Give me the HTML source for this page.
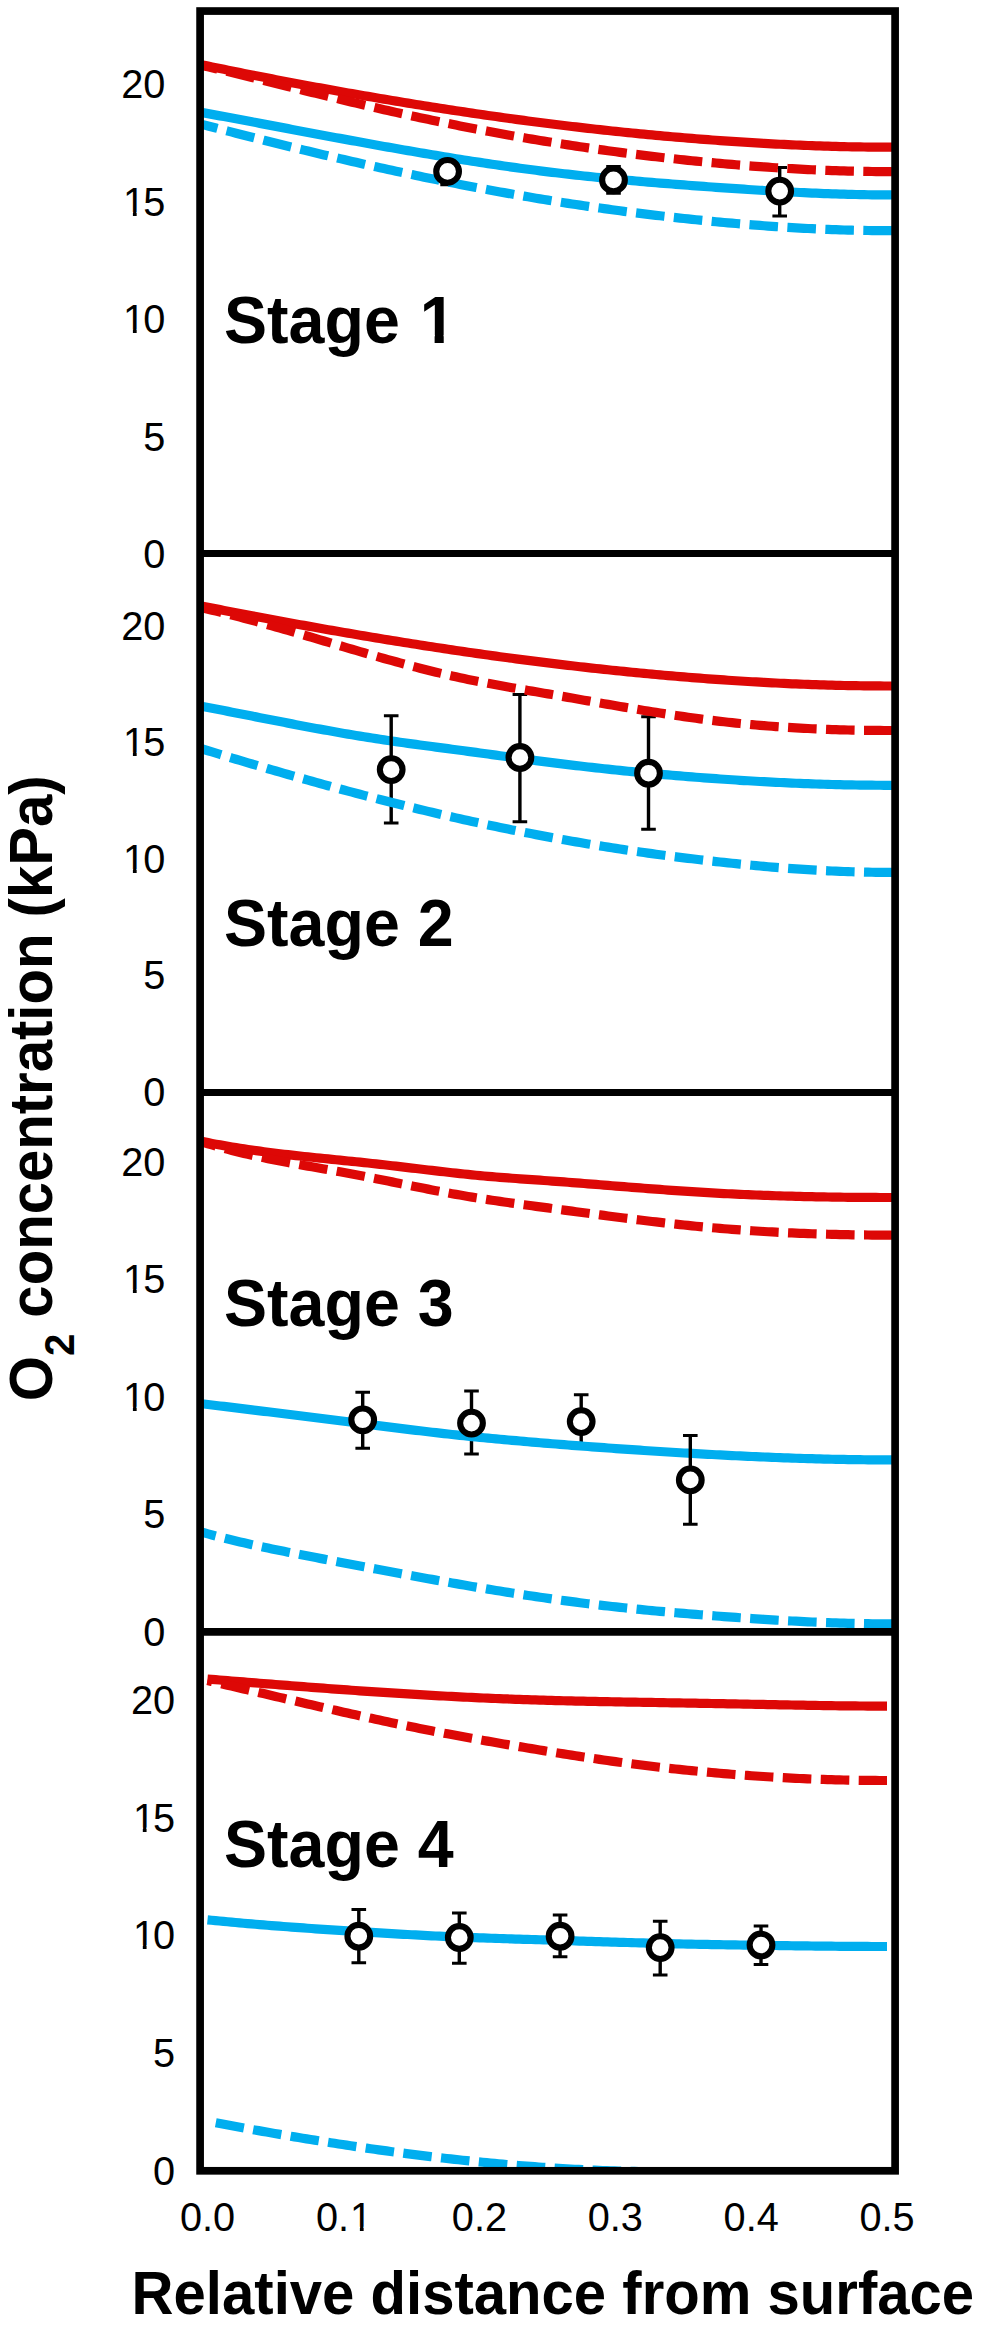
<!DOCTYPE html>
<html lang="en"><head><meta charset="utf-8"><title>O2 concentration profiles</title>
<style>html,body{margin:0;padding:0;background:#fff}svg{display:block}text{font-family:"Liberation Sans",sans-serif;fill:#000}.b{font-weight:bold}</style></head><body>
<svg width="982" height="2326" viewBox="0 0 982 2326">
<rect width="982" height="2326" fill="#fff"/>
<defs><clipPath id="cp"><rect x="200.1" y="11.05" width="695.0" height="2159.75"/></clipPath></defs>
<g stroke="#000" fill="none">
<path stroke-width="3.4" d="M447.6 158.0V184.8"/><path stroke-width="3.0" d="M440.30 158.0H454.90M440.30 184.8H454.90"/>
<path stroke-width="3.4" d="M613.5 166.5V193.3"/><path stroke-width="3.0" d="M606.20 166.5H620.80M606.20 193.3H620.80"/>
<path stroke-width="3.4" d="M779.7 167.5V216.1"/><path stroke-width="3.0" d="M772.40 167.5H787.00M772.40 216.1H787.00"/>
</g>
<g clip-path="url(#cp)" fill="none" stroke-width="9.2">
<path d="M200.0 64.40 L204.0 65.24 L208.0 66.07 L212.0 66.90 L216.0 67.72 L220.0 68.54 L224.0 69.36 L228.0 70.17 L232.0 70.98 L236.0 71.79 L240.0 72.59 L244.0 73.39 L248.0 74.19 L252.0 74.98 L256.0 75.77 L260.0 76.55 L264.0 77.33 L268.0 78.11 L272.0 78.88 L276.0 79.65 L280.0 80.42 L284.0 81.18 L288.0 81.94 L292.0 82.70 L296.0 83.45 L300.0 84.20 L304.0 84.95 L308.0 85.69 L312.0 86.43 L316.0 87.16 L320.0 87.89 L324.0 88.62 L328.0 89.34 L332.0 90.06 L336.0 90.78 L340.0 91.50 L344.0 92.21 L348.0 92.91 L352.0 93.62 L356.0 94.32 L360.0 95.02 L364.0 95.71 L368.0 96.40 L372.0 97.09 L376.0 97.77 L380.0 98.45 L384.0 99.13 L388.0 99.80 L392.0 100.47 L396.0 101.14 L400.0 101.80 L404.0 102.46 L408.0 103.12 L412.0 103.77 L416.0 104.42 L420.0 105.06 L424.0 105.71 L428.0 106.34 L432.0 106.98 L436.0 107.61 L440.0 108.23 L444.0 108.86 L448.0 109.47 L452.0 110.09 L456.0 110.70 L460.0 111.30 L464.0 111.91 L468.0 112.50 L472.0 113.10 L476.0 113.69 L480.0 114.27 L484.0 114.85 L488.0 115.43 L492.0 116.00 L496.0 116.57 L500.0 117.13 L504.0 117.69 L508.0 118.24 L512.0 118.79 L516.0 119.34 L520.0 119.88 L524.0 120.41 L528.0 120.94 L532.0 121.47 L536.0 121.99 L540.0 122.51 L544.0 123.02 L548.0 123.53 L552.0 124.03 L556.0 124.52 L560.0 125.02 L564.0 125.50 L568.0 125.98 L572.0 126.46 L576.0 126.93 L580.0 127.40 L584.0 127.86 L588.0 128.32 L592.0 128.77 L596.0 129.22 L600.0 129.66 L604.0 130.10 L608.0 130.53 L612.0 130.96 L616.0 131.38 L620.0 131.79 L624.0 132.21 L628.0 132.61 L632.0 133.01 L636.0 133.41 L640.0 133.80 L644.0 134.19 L648.0 134.57 L652.0 134.95 L656.0 135.32 L660.0 135.69 L664.0 136.05 L668.0 136.40 L672.0 136.75 L676.0 137.10 L680.0 137.44 L684.0 137.78 L688.0 138.11 L692.0 138.43 L696.0 138.75 L700.0 139.07 L704.0 139.38 L708.0 139.69 L712.0 139.99 L716.0 140.28 L720.0 140.57 L724.0 140.86 L728.0 141.14 L732.0 141.41 L736.0 141.68 L740.0 141.94 L744.0 142.20 L748.0 142.45 L752.0 142.70 L756.0 142.94 L760.0 143.18 L764.0 143.41 L768.0 143.63 L772.0 143.85 L776.0 144.06 L780.0 144.26 L784.0 144.46 L788.0 144.66 L792.0 144.84 L796.0 145.02 L800.0 145.20 L804.0 145.36 L808.0 145.52 L812.0 145.67 L816.0 145.82 L820.0 145.96 L824.0 146.09 L828.0 146.22 L832.0 146.34 L836.0 146.45 L840.0 146.55 L844.0 146.65 L848.0 146.74 L852.0 146.82 L856.0 146.89 L860.0 146.96 L864.0 147.01 L868.0 147.06 L872.0 147.11 L876.0 147.14 L880.0 147.17 L884.0 147.19 L888.0 147.20 L892.0 147.20 L895.0 147.20" stroke="#dd0806"/>
<path d="M200.0 64.96 L204.0 65.90 L208.0 66.84 L212.0 67.79 L216.0 68.75 L220.0 69.70 L224.0 70.67 L228.0 71.63 L232.0 72.60 L236.0 73.58 L240.0 74.56 L244.0 75.54 L248.0 76.52 L252.0 77.51 L256.0 78.49 L260.0 79.48 L264.0 80.48 L268.0 81.47 L272.0 82.46 L276.0 83.46 L280.0 84.46 L284.0 85.45 L288.0 86.45 L292.0 87.44 L296.0 88.44 L300.0 89.43 L304.0 90.43 L308.0 91.42 L312.0 92.41 L316.0 93.40 L320.0 94.39 L324.0 95.37 L328.0 96.35 L332.0 97.33 L336.0 98.31 L340.0 99.28 L344.0 100.25 L348.0 101.22 L352.0 102.18 L356.0 103.13 L360.0 104.08 L364.0 105.03 L368.0 105.97 L372.0 106.90 L376.0 107.83 L380.0 108.75 L384.0 109.67 L388.0 110.58 L392.0 111.49 L396.0 112.38 L400.0 113.27 L404.0 114.16 L408.0 115.04 L412.0 115.91 L416.0 116.78 L420.0 117.64 L424.0 118.49 L428.0 119.34 L432.0 120.18 L436.0 121.02 L440.0 121.85 L444.0 122.67 L448.0 123.49 L452.0 124.30 L456.0 125.10 L460.0 125.89 L464.0 126.69 L468.0 127.47 L472.0 128.25 L476.0 129.02 L480.0 129.78 L484.0 130.54 L488.0 131.29 L492.0 132.03 L496.0 132.77 L500.0 133.50 L504.0 134.23 L508.0 134.95 L512.0 135.66 L516.0 136.36 L520.0 137.06 L524.0 137.75 L528.0 138.44 L532.0 139.12 L536.0 139.79 L540.0 140.45 L544.0 141.11 L548.0 141.76 L552.0 142.41 L556.0 143.04 L560.0 143.67 L564.0 144.30 L568.0 144.92 L572.0 145.53 L576.0 146.13 L580.0 146.73 L584.0 147.32 L588.0 147.90 L592.0 148.48 L596.0 149.05 L600.0 149.61 L604.0 150.17 L608.0 150.72 L612.0 151.26 L616.0 151.80 L620.0 152.33 L624.0 152.85 L628.0 153.37 L632.0 153.87 L636.0 154.38 L640.0 154.87 L644.0 155.36 L648.0 155.85 L652.0 156.32 L656.0 156.79 L660.0 157.25 L664.0 157.71 L668.0 158.16 L672.0 158.60 L676.0 159.04 L680.0 159.47 L684.0 159.89 L688.0 160.30 L692.0 160.71 L696.0 161.12 L700.0 161.51 L704.0 161.90 L708.0 162.28 L712.0 162.66 L716.0 163.03 L720.0 163.39 L724.0 163.75 L728.0 164.10 L732.0 164.44 L736.0 164.77 L740.0 165.10 L744.0 165.42 L748.0 165.74 L752.0 166.04 L756.0 166.34 L760.0 166.64 L764.0 166.92 L768.0 167.20 L772.0 167.47 L776.0 167.73 L780.0 167.98 L784.0 168.23 L788.0 168.47 L792.0 168.70 L796.0 168.92 L800.0 169.13 L804.0 169.34 L808.0 169.54 L812.0 169.73 L816.0 169.91 L820.0 170.08 L824.0 170.24 L828.0 170.39 L832.0 170.54 L836.0 170.68 L840.0 170.80 L844.0 170.92 L848.0 171.03 L852.0 171.13 L856.0 171.22 L860.0 171.30 L864.0 171.37 L868.0 171.43 L872.0 171.49 L876.0 171.53 L880.0 171.56 L884.0 171.58 L888.0 171.60 L892.0 171.60 L895.0 171.60" stroke="#dd0806" stroke-dasharray="28.6 9.4" stroke-dashoffset="10.56"/>
<path d="M200.0 112.17 L204.0 112.90 L208.0 113.64 L212.0 114.38 L216.0 115.12 L220.0 115.86 L224.0 116.60 L228.0 117.35 L232.0 118.10 L236.0 118.84 L240.0 119.59 L244.0 120.35 L248.0 121.10 L252.0 121.85 L256.0 122.60 L260.0 123.36 L264.0 124.11 L268.0 124.87 L272.0 125.62 L276.0 126.38 L280.0 127.13 L284.0 127.89 L288.0 128.64 L292.0 129.40 L296.0 130.15 L300.0 130.91 L304.0 131.66 L308.0 132.41 L312.0 133.16 L316.0 133.92 L320.0 134.67 L324.0 135.41 L328.0 136.16 L332.0 136.91 L336.0 137.65 L340.0 138.39 L344.0 139.13 L348.0 139.87 L352.0 140.61 L356.0 141.34 L360.0 142.08 L364.0 142.81 L368.0 143.53 L372.0 144.26 L376.0 144.98 L380.0 145.70 L384.0 146.42 L388.0 147.13 L392.0 147.84 L396.0 148.55 L400.0 149.25 L404.0 149.95 L408.0 150.65 L412.0 151.34 L416.0 152.03 L420.0 152.71 L424.0 153.39 L428.0 154.07 L432.0 154.74 L436.0 155.41 L440.0 156.07 L444.0 156.73 L448.0 157.38 L452.0 158.03 L456.0 158.67 L460.0 159.31 L464.0 159.95 L468.0 160.57 L472.0 161.20 L476.0 161.81 L480.0 162.42 L484.0 163.03 L488.0 163.63 L492.0 164.22 L496.0 164.81 L500.0 165.39 L504.0 165.96 L508.0 166.53 L512.0 167.09 L516.0 167.65 L520.0 168.19 L524.0 168.73 L528.0 169.27 L532.0 169.79 L536.0 170.31 L540.0 170.82 L544.0 171.33 L548.0 171.82 L552.0 172.31 L556.0 172.79 L560.0 173.27 L564.0 173.73 L568.0 174.19 L572.0 174.64 L576.0 175.09 L580.0 175.52 L584.0 175.96 L588.0 176.38 L592.0 176.80 L596.0 177.21 L600.0 177.62 L604.0 178.02 L608.0 178.41 L612.0 178.80 L616.0 179.18 L620.0 179.56 L624.0 179.93 L628.0 180.29 L632.0 180.66 L636.0 181.01 L640.0 181.36 L644.0 181.71 L648.0 182.05 L652.0 182.39 L656.0 182.72 L660.0 183.05 L664.0 183.38 L668.0 183.70 L672.0 184.01 L676.0 184.33 L680.0 184.64 L684.0 184.94 L688.0 185.25 L692.0 185.55 L696.0 185.84 L700.0 186.14 L704.0 186.43 L708.0 186.72 L712.0 187.00 L716.0 187.29 L720.0 187.57 L724.0 187.85 L728.0 188.13 L732.0 188.40 L736.0 188.67 L740.0 188.94 L744.0 189.21 L748.0 189.47 L752.0 189.73 L756.0 189.98 L760.0 190.23 L764.0 190.48 L768.0 190.72 L772.0 190.96 L776.0 191.19 L780.0 191.42 L784.0 191.64 L788.0 191.86 L792.0 192.07 L796.0 192.27 L800.0 192.47 L804.0 192.66 L808.0 192.85 L812.0 193.03 L816.0 193.20 L820.0 193.37 L824.0 193.53 L828.0 193.68 L832.0 193.82 L836.0 193.95 L840.0 194.08 L844.0 194.20 L848.0 194.31 L852.0 194.41 L856.0 194.50 L860.0 194.59 L864.0 194.66 L868.0 194.73 L872.0 194.78 L876.0 194.82 L880.0 194.86 L884.0 194.88 L888.0 194.90 L892.0 194.90 L895.0 194.90" stroke="#00aeef"/>
<path d="M200.0 123.85 L204.0 124.90 L208.0 125.95 L212.0 126.99 L216.0 128.03 L220.0 129.07 L224.0 130.11 L228.0 131.14 L232.0 132.17 L236.0 133.19 L240.0 134.22 L244.0 135.24 L248.0 136.25 L252.0 137.27 L256.0 138.28 L260.0 139.28 L264.0 140.29 L268.0 141.28 L272.0 142.28 L276.0 143.27 L280.0 144.26 L284.0 145.25 L288.0 146.23 L292.0 147.21 L296.0 148.18 L300.0 149.15 L304.0 150.12 L308.0 151.08 L312.0 152.04 L316.0 153.00 L320.0 153.95 L324.0 154.90 L328.0 155.84 L332.0 156.78 L336.0 157.71 L340.0 158.64 L344.0 159.57 L348.0 160.49 L352.0 161.41 L356.0 162.32 L360.0 163.23 L364.0 164.14 L368.0 165.04 L372.0 165.93 L376.0 166.82 L380.0 167.71 L384.0 168.59 L388.0 169.47 L392.0 170.34 L396.0 171.21 L400.0 172.07 L404.0 172.92 L408.0 173.78 L412.0 174.62 L416.0 175.47 L420.0 176.30 L424.0 177.14 L428.0 177.96 L432.0 178.79 L436.0 179.60 L440.0 180.41 L444.0 181.22 L448.0 182.02 L452.0 182.81 L456.0 183.60 L460.0 184.39 L464.0 185.17 L468.0 185.94 L472.0 186.71 L476.0 187.47 L480.0 188.23 L484.0 188.98 L488.0 189.72 L492.0 190.46 L496.0 191.19 L500.0 191.92 L504.0 192.64 L508.0 193.35 L512.0 194.06 L516.0 194.77 L520.0 195.46 L524.0 196.15 L528.0 196.84 L532.0 197.51 L536.0 198.19 L540.0 198.85 L544.0 199.51 L548.0 200.16 L552.0 200.81 L556.0 201.45 L560.0 202.08 L564.0 202.71 L568.0 203.33 L572.0 203.94 L576.0 204.55 L580.0 205.15 L584.0 205.74 L588.0 206.33 L592.0 206.91 L596.0 207.49 L600.0 208.05 L604.0 208.61 L608.0 209.17 L612.0 209.72 L616.0 210.26 L620.0 210.80 L624.0 211.33 L628.0 211.85 L632.0 212.37 L636.0 212.88 L640.0 213.38 L644.0 213.88 L648.0 214.37 L652.0 214.85 L656.0 215.33 L660.0 215.80 L664.0 216.26 L668.0 216.72 L672.0 217.17 L676.0 217.62 L680.0 218.06 L684.0 218.49 L688.0 218.92 L692.0 219.34 L696.0 219.75 L700.0 220.16 L704.0 220.56 L708.0 220.95 L712.0 221.34 L716.0 221.72 L720.0 222.09 L724.0 222.46 L728.0 222.82 L732.0 223.18 L736.0 223.52 L740.0 223.87 L744.0 224.20 L748.0 224.53 L752.0 224.85 L756.0 225.16 L760.0 225.46 L764.0 225.76 L768.0 226.05 L772.0 226.33 L776.0 226.61 L780.0 226.87 L784.0 227.13 L788.0 227.38 L792.0 227.63 L796.0 227.86 L800.0 228.08 L804.0 228.30 L808.0 228.51 L812.0 228.71 L816.0 228.90 L820.0 229.08 L824.0 229.25 L828.0 229.42 L832.0 229.57 L836.0 229.72 L840.0 229.85 L844.0 229.98 L848.0 230.09 L852.0 230.20 L856.0 230.29 L860.0 230.38 L864.0 230.46 L868.0 230.52 L872.0 230.58 L876.0 230.62 L880.0 230.66 L884.0 230.68 L888.0 230.70 L892.0 230.70 L895.0 230.70" stroke="#00aeef" stroke-dasharray="28.6 9.4" stroke-dashoffset="10.59"/>
</g>
<g stroke="#000" stroke-width="6.1" fill="#fff">
<circle cx="447.6" cy="171.4" r="11.35"/>
<circle cx="613.5" cy="179.9" r="11.35"/>
<circle cx="779.7" cy="191.1" r="11.35"/>
</g>
<g clip-path="url(#cp)" fill="none" stroke-width="9.2">
<path d="M200.0 705.93 L204.0 706.70 L208.0 707.47 L212.0 708.25 L216.0 709.02 L220.0 709.81 L224.0 710.59 L228.0 711.37 L232.0 712.16 L236.0 712.94 L240.0 713.73 L244.0 714.52 L248.0 715.30 L252.0 716.09 L256.0 716.88 L260.0 717.66 L264.0 718.45 L268.0 719.23 L272.0 720.01 L276.0 720.79 L280.0 721.57 L284.0 722.34 L288.0 723.12 L292.0 723.88 L296.0 724.65 L300.0 725.41 L304.0 726.16 L308.0 726.91 L312.0 727.66 L316.0 728.40 L320.0 729.14 L324.0 729.86 L328.0 730.59 L332.0 731.30 L336.0 732.01 L340.0 732.71 L344.0 733.41 L348.0 734.10 L352.0 734.77 L356.0 735.44 L360.0 736.10 L364.0 736.76 L368.0 737.40 L372.0 738.03 L376.0 738.65 L380.0 739.27 L384.0 739.87 L388.0 740.46 L392.0 741.05 L396.0 741.63 L400.0 742.20 L404.0 742.76 L408.0 743.32 L412.0 743.87 L416.0 744.42 L420.0 744.96 L424.0 745.50 L428.0 746.03 L432.0 746.56 L436.0 747.10 L440.0 747.62 L444.0 748.15 L448.0 748.68 L452.0 749.21 L456.0 749.74 L460.0 750.27 L464.0 750.80 L468.0 751.33 L472.0 751.87 L476.0 752.41 L480.0 752.95 L484.0 753.50 L488.0 754.05 L492.0 754.59 L496.0 755.14 L500.0 755.69 L504.0 756.24 L508.0 756.79 L512.0 757.34 L516.0 757.88 L520.0 758.42 L524.0 758.97 L528.0 759.50 L532.0 760.04 L536.0 760.57 L540.0 761.09 L544.0 761.61 L548.0 762.13 L552.0 762.64 L556.0 763.14 L560.0 763.64 L564.0 764.13 L568.0 764.62 L572.0 765.10 L576.0 765.57 L580.0 766.04 L584.0 766.50 L588.0 766.96 L592.0 767.41 L596.0 767.86 L600.0 768.30 L604.0 768.73 L608.0 769.16 L612.0 769.58 L616.0 770.00 L620.0 770.41 L624.0 770.82 L628.0 771.22 L632.0 771.62 L636.0 772.01 L640.0 772.39 L644.0 772.77 L648.0 773.15 L652.0 773.51 L656.0 773.88 L660.0 774.24 L664.0 774.59 L668.0 774.94 L672.0 775.28 L676.0 775.61 L680.0 775.94 L684.0 776.27 L688.0 776.59 L692.0 776.91 L696.0 777.22 L700.0 777.52 L704.0 777.82 L708.0 778.12 L712.0 778.41 L716.0 778.69 L720.0 778.97 L724.0 779.24 L728.0 779.51 L732.0 779.78 L736.0 780.03 L740.0 780.29 L744.0 780.54 L748.0 780.78 L752.0 781.01 L756.0 781.25 L760.0 781.47 L764.0 781.69 L768.0 781.90 L772.0 782.11 L776.0 782.31 L780.0 782.51 L784.0 782.70 L788.0 782.88 L792.0 783.06 L796.0 783.23 L800.0 783.40 L804.0 783.56 L808.0 783.71 L812.0 783.85 L816.0 783.99 L820.0 784.12 L824.0 784.25 L828.0 784.37 L832.0 784.48 L836.0 784.59 L840.0 784.69 L844.0 784.78 L848.0 784.86 L852.0 784.94 L856.0 785.01 L860.0 785.07 L864.0 785.12 L868.0 785.17 L872.0 785.21 L876.0 785.25 L880.0 785.27 L884.0 785.29 L888.0 785.30 L892.0 785.30 L895.0 785.30" stroke="#00aeef"/>
</g>
<g stroke="#000" fill="none">
<path stroke-width="3.4" d="M391.2 715.7V823.1"/><path stroke-width="3.0" d="M383.90 715.7H398.50M383.90 823.1H398.50"/>
<path stroke-width="3.4" d="M519.9 694.5V821.7"/><path stroke-width="3.0" d="M512.60 694.5H527.20M512.60 821.7H527.20"/>
<path stroke-width="3.4" d="M648.5 716.8V829.3"/><path stroke-width="3.0" d="M641.20 716.8H655.80M641.20 829.3H655.80"/>
</g>
<g clip-path="url(#cp)" fill="none" stroke-width="9.2">
<path d="M200.0 748.27 L204.0 749.50 L208.0 750.73 L212.0 751.96 L216.0 753.18 L220.0 754.40 L224.0 755.61 L228.0 756.82 L232.0 758.03 L236.0 759.23 L240.0 760.43 L244.0 761.63 L248.0 762.82 L252.0 764.00 L256.0 765.19 L260.0 766.36 L264.0 767.54 L268.0 768.71 L272.0 769.87 L276.0 771.03 L280.0 772.19 L284.0 773.34 L288.0 774.49 L292.0 775.63 L296.0 776.77 L300.0 777.90 L304.0 779.03 L308.0 780.15 L312.0 781.27 L316.0 782.38 L320.0 783.49 L324.0 784.59 L328.0 785.69 L332.0 786.79 L336.0 787.87 L340.0 788.96 L344.0 790.03 L348.0 791.11 L352.0 792.17 L356.0 793.23 L360.0 794.29 L364.0 795.34 L368.0 796.38 L372.0 797.42 L376.0 798.46 L380.0 799.49 L384.0 800.51 L388.0 801.52 L392.0 802.53 L396.0 803.54 L400.0 804.54 L404.0 805.53 L408.0 806.52 L412.0 807.50 L416.0 808.47 L420.0 809.44 L424.0 810.40 L428.0 811.36 L432.0 812.31 L436.0 813.25 L440.0 814.19 L444.0 815.12 L448.0 816.04 L452.0 816.96 L456.0 817.87 L460.0 818.78 L464.0 819.67 L468.0 820.56 L472.0 821.45 L476.0 822.32 L480.0 823.19 L484.0 824.06 L488.0 824.91 L492.0 825.76 L496.0 826.60 L500.0 827.44 L504.0 828.27 L508.0 829.09 L512.0 829.90 L516.0 830.71 L520.0 831.51 L524.0 832.30 L528.0 833.08 L532.0 833.86 L536.0 834.63 L540.0 835.39 L544.0 836.14 L548.0 836.89 L552.0 837.62 L556.0 838.35 L560.0 839.08 L564.0 839.79 L568.0 840.50 L572.0 841.20 L576.0 841.89 L580.0 842.58 L584.0 843.25 L588.0 843.92 L592.0 844.59 L596.0 845.24 L600.0 845.89 L604.0 846.53 L608.0 847.16 L612.0 847.79 L616.0 848.40 L620.0 849.01 L624.0 849.62 L628.0 850.22 L632.0 850.80 L636.0 851.39 L640.0 851.96 L644.0 852.53 L648.0 853.09 L652.0 853.64 L656.0 854.19 L660.0 854.73 L664.0 855.26 L668.0 855.79 L672.0 856.31 L676.0 856.82 L680.0 857.33 L684.0 857.82 L688.0 858.32 L692.0 858.80 L696.0 859.28 L700.0 859.75 L704.0 860.22 L708.0 860.67 L712.0 861.13 L716.0 861.57 L720.0 862.01 L724.0 862.44 L728.0 862.87 L732.0 863.28 L736.0 863.69 L740.0 864.10 L744.0 864.49 L748.0 864.88 L752.0 865.26 L756.0 865.64 L760.0 866.00 L764.0 866.36 L768.0 866.71 L772.0 867.05 L776.0 867.38 L780.0 867.70 L784.0 868.01 L788.0 868.32 L792.0 868.61 L796.0 868.89 L800.0 869.17 L804.0 869.43 L808.0 869.69 L812.0 869.93 L816.0 870.17 L820.0 870.39 L824.0 870.60 L828.0 870.80 L832.0 870.99 L836.0 871.17 L840.0 871.34 L844.0 871.50 L848.0 871.64 L852.0 871.77 L856.0 871.89 L860.0 872.00 L864.0 872.10 L868.0 872.18 L872.0 872.25 L876.0 872.30 L880.0 872.35 L884.0 872.38 L888.0 872.40 L892.0 872.40 L895.0 872.40" stroke="#00aeef" stroke-dasharray="28.6 9.4" stroke-dashoffset="6.43"/>
<path d="M200.0 605.71 L204.0 606.50 L208.0 607.29 L212.0 608.07 L216.0 608.85 L220.0 609.63 L224.0 610.40 L228.0 611.18 L232.0 611.95 L236.0 612.72 L240.0 613.48 L244.0 614.25 L248.0 615.01 L252.0 615.77 L256.0 616.52 L260.0 617.28 L264.0 618.03 L268.0 618.78 L272.0 619.52 L276.0 620.26 L280.0 621.00 L284.0 621.74 L288.0 622.47 L292.0 623.21 L296.0 623.93 L300.0 624.66 L304.0 625.38 L308.0 626.10 L312.0 626.82 L316.0 627.53 L320.0 628.25 L324.0 628.95 L328.0 629.66 L332.0 630.36 L336.0 631.06 L340.0 631.75 L344.0 632.45 L348.0 633.13 L352.0 633.82 L356.0 634.50 L360.0 635.18 L364.0 635.86 L368.0 636.53 L372.0 637.20 L376.0 637.87 L380.0 638.53 L384.0 639.19 L388.0 639.84 L392.0 640.50 L396.0 641.14 L400.0 641.79 L404.0 642.43 L408.0 643.07 L412.0 643.70 L416.0 644.33 L420.0 644.96 L424.0 645.58 L428.0 646.20 L432.0 646.82 L436.0 647.43 L440.0 648.04 L444.0 648.64 L448.0 649.24 L452.0 649.84 L456.0 650.43 L460.0 651.02 L464.0 651.61 L468.0 652.19 L472.0 652.76 L476.0 653.34 L480.0 653.90 L484.0 654.47 L488.0 655.03 L492.0 655.59 L496.0 656.14 L500.0 656.69 L504.0 657.23 L508.0 657.77 L512.0 658.30 L516.0 658.84 L520.0 659.36 L524.0 659.88 L528.0 660.40 L532.0 660.91 L536.0 661.42 L540.0 661.93 L544.0 662.43 L548.0 662.92 L552.0 663.41 L556.0 663.90 L560.0 664.38 L564.0 664.86 L568.0 665.33 L572.0 665.80 L576.0 666.26 L580.0 666.72 L584.0 667.18 L588.0 667.62 L592.0 668.07 L596.0 668.51 L600.0 668.94 L604.0 669.37 L608.0 669.80 L612.0 670.22 L616.0 670.63 L620.0 671.05 L624.0 671.45 L628.0 671.85 L632.0 672.25 L636.0 672.64 L640.0 673.02 L644.0 673.41 L648.0 673.78 L652.0 674.15 L656.0 674.52 L660.0 674.88 L664.0 675.24 L668.0 675.59 L672.0 675.93 L676.0 676.27 L680.0 676.61 L684.0 676.94 L688.0 677.26 L692.0 677.58 L696.0 677.90 L700.0 678.20 L704.0 678.51 L708.0 678.81 L712.0 679.10 L716.0 679.39 L720.0 679.67 L724.0 679.95 L728.0 680.22 L732.0 680.48 L736.0 680.75 L740.0 681.00 L744.0 681.25 L748.0 681.49 L752.0 681.73 L756.0 681.96 L760.0 682.19 L764.0 682.41 L768.0 682.62 L772.0 682.83 L776.0 683.03 L780.0 683.23 L784.0 683.42 L788.0 683.60 L792.0 683.78 L796.0 683.95 L800.0 684.11 L804.0 684.27 L808.0 684.42 L812.0 684.57 L816.0 684.71 L820.0 684.84 L824.0 684.96 L828.0 685.08 L832.0 685.19 L836.0 685.30 L840.0 685.39 L844.0 685.48 L848.0 685.57 L852.0 685.64 L856.0 685.71 L860.0 685.77 L864.0 685.83 L868.0 685.87 L872.0 685.91 L876.0 685.95 L880.0 685.97 L884.0 685.99 L888.0 686.00 L892.0 686.00 L895.0 686.00" stroke="#dd0806"/>
<path d="M200.0 607.40 L204.0 608.30 L208.0 609.22 L212.0 610.15 L216.0 611.10 L220.0 612.07 L224.0 613.05 L228.0 614.05 L232.0 615.06 L236.0 616.09 L240.0 617.12 L244.0 618.18 L248.0 619.24 L252.0 620.31 L256.0 621.40 L260.0 622.50 L264.0 623.60 L268.0 624.72 L272.0 625.84 L276.0 626.97 L280.0 628.11 L284.0 629.26 L288.0 630.41 L292.0 631.57 L296.0 632.73 L300.0 633.90 L304.0 635.07 L308.0 636.25 L312.0 637.43 L316.0 638.61 L320.0 639.79 L324.0 640.97 L328.0 642.16 L332.0 643.34 L336.0 644.52 L340.0 645.70 L344.0 646.88 L348.0 648.06 L352.0 649.24 L356.0 650.41 L360.0 651.57 L364.0 652.73 L368.0 653.89 L372.0 655.04 L376.0 656.19 L380.0 657.32 L384.0 658.45 L388.0 659.57 L392.0 660.69 L396.0 661.79 L400.0 662.88 L404.0 663.96 L408.0 665.04 L412.0 666.10 L416.0 667.14 L420.0 668.18 L424.0 669.20 L428.0 670.21 L432.0 671.20 L436.0 672.18 L440.0 673.14 L444.0 674.08 L448.0 675.01 L452.0 675.92 L456.0 676.82 L460.0 677.69 L464.0 678.55 L468.0 679.38 L472.0 680.20 L476.0 681.01 L480.0 681.80 L484.0 682.57 L488.0 683.33 L492.0 684.08 L496.0 684.82 L500.0 685.54 L504.0 686.26 L508.0 686.97 L512.0 687.68 L516.0 688.38 L520.0 689.07 L524.0 689.76 L528.0 690.44 L532.0 691.13 L536.0 691.81 L540.0 692.50 L544.0 693.18 L548.0 693.87 L552.0 694.56 L556.0 695.26 L560.0 695.96 L564.0 696.65 L568.0 697.35 L572.0 698.06 L576.0 698.76 L580.0 699.46 L584.0 700.16 L588.0 700.87 L592.0 701.57 L596.0 702.27 L600.0 702.97 L604.0 703.67 L608.0 704.36 L612.0 705.06 L616.0 705.74 L620.0 706.43 L624.0 707.11 L628.0 707.79 L632.0 708.46 L636.0 709.13 L640.0 709.80 L644.0 710.45 L648.0 711.10 L652.0 711.75 L656.0 712.38 L660.0 713.01 L664.0 713.64 L668.0 714.25 L672.0 714.86 L676.0 715.45 L680.0 716.04 L684.0 716.62 L688.0 717.19 L692.0 717.74 L696.0 718.29 L700.0 718.82 L704.0 719.35 L708.0 719.86 L712.0 720.36 L716.0 720.84 L720.0 721.32 L724.0 721.78 L728.0 722.22 L732.0 722.66 L736.0 723.08 L740.0 723.48 L744.0 723.88 L748.0 724.26 L752.0 724.63 L756.0 724.98 L760.0 725.33 L764.0 725.66 L768.0 725.98 L772.0 726.28 L776.0 726.58 L780.0 726.86 L784.0 727.13 L788.0 727.39 L792.0 727.64 L796.0 727.88 L800.0 728.11 L804.0 728.32 L808.0 728.53 L812.0 728.72 L816.0 728.90 L820.0 729.07 L824.0 729.24 L828.0 729.39 L832.0 729.53 L836.0 729.66 L840.0 729.78 L844.0 729.89 L848.0 729.99 L852.0 730.09 L856.0 730.17 L860.0 730.24 L864.0 730.30 L868.0 730.36 L872.0 730.40 L876.0 730.44 L880.0 730.47 L884.0 730.49 L888.0 730.50 L892.0 730.50 L895.0 730.50" stroke="#dd0806" stroke-dasharray="28.6 9.4" stroke-dashoffset="6.58"/>
</g>
<g stroke="#000" stroke-width="6.1" fill="#fff">
<circle cx="391.2" cy="769.6" r="11.35"/>
<circle cx="519.9" cy="757.5" r="11.35"/>
<circle cx="648.5" cy="773.2" r="11.35"/>
</g>
<g stroke="#000" fill="none">
<path stroke-width="3.4" d="M362.7 1392.2V1448.2"/><path stroke-width="3.0" d="M355.40 1392.2H370.00M355.40 1448.2H370.00"/>
<path stroke-width="3.4" d="M471.5 1391.0V1454.1"/><path stroke-width="3.0" d="M464.20 1391.0H478.80M464.20 1454.1H478.80"/>
<path stroke-width="3.4" d="M581.2 1394.8V1447"/><path stroke-width="3.0" d="M573.90 1394.8H588.50M573.90 1447H588.50"/>
</g>
<g clip-path="url(#cp)" fill="none" stroke-width="9.2">
<path d="M200.0 1140.97 L204.0 1141.80 L208.0 1142.61 L212.0 1143.39 L216.0 1144.15 L220.0 1144.89 L224.0 1145.60 L228.0 1146.30 L232.0 1146.97 L236.0 1147.63 L240.0 1148.26 L244.0 1148.88 L248.0 1149.48 L252.0 1150.06 L256.0 1150.62 L260.0 1151.18 L264.0 1151.71 L268.0 1152.24 L272.0 1152.75 L276.0 1153.24 L280.0 1153.73 L284.0 1154.21 L288.0 1154.67 L292.0 1155.13 L296.0 1155.57 L300.0 1156.02 L304.0 1156.45 L308.0 1156.88 L312.0 1157.30 L316.0 1157.71 L320.0 1158.13 L324.0 1158.54 L328.0 1158.94 L332.0 1159.35 L336.0 1159.75 L340.0 1160.16 L344.0 1160.56 L348.0 1160.97 L352.0 1161.38 L356.0 1161.79 L360.0 1162.20 L364.0 1162.62 L368.0 1163.04 L372.0 1163.47 L376.0 1163.91 L380.0 1164.35 L384.0 1164.80 L388.0 1165.26 L392.0 1165.72 L396.0 1166.18 L400.0 1166.65 L404.0 1167.12 L408.0 1167.59 L412.0 1168.06 L416.0 1168.53 L420.0 1169.01 L424.0 1169.48 L428.0 1169.95 L432.0 1170.42 L436.0 1170.88 L440.0 1171.34 L444.0 1171.80 L448.0 1172.25 L452.0 1172.70 L456.0 1173.14 L460.0 1173.57 L464.0 1173.99 L468.0 1174.41 L472.0 1174.81 L476.0 1175.21 L480.0 1175.59 L484.0 1175.96 L488.0 1176.32 L492.0 1176.67 L496.0 1177.01 L500.0 1177.33 L504.0 1177.64 L508.0 1177.95 L512.0 1178.24 L516.0 1178.53 L520.0 1178.82 L524.0 1179.10 L528.0 1179.38 L532.0 1179.65 L536.0 1179.93 L540.0 1180.21 L544.0 1180.49 L548.0 1180.77 L552.0 1181.06 L556.0 1181.35 L560.0 1181.65 L564.0 1181.95 L568.0 1182.25 L572.0 1182.56 L576.0 1182.86 L580.0 1183.18 L584.0 1183.49 L588.0 1183.80 L592.0 1184.12 L596.0 1184.44 L600.0 1184.76 L604.0 1185.08 L608.0 1185.40 L612.0 1185.72 L616.0 1186.04 L620.0 1186.36 L624.0 1186.68 L628.0 1186.99 L632.0 1187.31 L636.0 1187.63 L640.0 1187.94 L644.0 1188.25 L648.0 1188.56 L652.0 1188.86 L656.0 1189.16 L660.0 1189.46 L664.0 1189.76 L668.0 1190.05 L672.0 1190.34 L676.0 1190.62 L680.0 1190.90 L684.0 1191.17 L688.0 1191.44 L692.0 1191.70 L696.0 1191.95 L700.0 1192.20 L704.0 1192.44 L708.0 1192.68 L712.0 1192.91 L716.0 1193.13 L720.0 1193.35 L724.0 1193.56 L728.0 1193.76 L732.0 1193.96 L736.0 1194.15 L740.0 1194.33 L744.0 1194.51 L748.0 1194.69 L752.0 1194.85 L756.0 1195.02 L760.0 1195.17 L764.0 1195.32 L768.0 1195.47 L772.0 1195.61 L776.0 1195.74 L780.0 1195.87 L784.0 1195.99 L788.0 1196.11 L792.0 1196.22 L796.0 1196.33 L800.0 1196.43 L804.0 1196.53 L808.0 1196.62 L812.0 1196.71 L816.0 1196.79 L820.0 1196.86 L824.0 1196.94 L828.0 1197.01 L832.0 1197.07 L836.0 1197.13 L840.0 1197.18 L844.0 1197.23 L848.0 1197.28 L852.0 1197.32 L856.0 1197.35 L860.0 1197.39 L864.0 1197.41 L868.0 1197.44 L872.0 1197.46 L876.0 1197.47 L880.0 1197.49 L884.0 1197.49 L888.0 1197.50 L892.0 1197.50 L895.0 1197.50" stroke="#dd0806"/>
<path d="M200.0 1141.22 L204.0 1142.50 L208.0 1143.74 L212.0 1144.95 L216.0 1146.12 L220.0 1147.25 L224.0 1148.35 L228.0 1149.42 L232.0 1150.46 L236.0 1151.47 L240.0 1152.45 L244.0 1153.40 L248.0 1154.33 L252.0 1155.23 L256.0 1156.11 L260.0 1156.97 L264.0 1157.81 L268.0 1158.63 L272.0 1159.44 L276.0 1160.22 L280.0 1161.00 L284.0 1161.76 L288.0 1162.51 L292.0 1163.24 L296.0 1163.97 L300.0 1164.69 L304.0 1165.41 L308.0 1166.12 L312.0 1166.82 L316.0 1167.53 L320.0 1168.23 L324.0 1168.93 L328.0 1169.64 L332.0 1170.35 L336.0 1171.06 L340.0 1171.78 L344.0 1172.51 L348.0 1173.24 L352.0 1173.99 L356.0 1174.74 L360.0 1175.51 L364.0 1176.28 L368.0 1177.07 L372.0 1177.86 L376.0 1178.65 L380.0 1179.45 L384.0 1180.26 L388.0 1181.07 L392.0 1181.88 L396.0 1182.69 L400.0 1183.50 L404.0 1184.31 L408.0 1185.12 L412.0 1185.93 L416.0 1186.73 L420.0 1187.53 L424.0 1188.33 L428.0 1189.12 L432.0 1189.90 L436.0 1190.67 L440.0 1191.43 L444.0 1192.19 L448.0 1192.93 L452.0 1193.66 L456.0 1194.38 L460.0 1195.08 L464.0 1195.77 L468.0 1196.44 L472.0 1197.10 L476.0 1197.75 L480.0 1198.38 L484.0 1199.00 L488.0 1199.61 L492.0 1200.21 L496.0 1200.80 L500.0 1201.38 L504.0 1201.95 L508.0 1202.52 L512.0 1203.07 L516.0 1203.63 L520.0 1204.17 L524.0 1204.72 L528.0 1205.26 L532.0 1205.79 L536.0 1206.33 L540.0 1206.86 L544.0 1207.40 L548.0 1207.93 L552.0 1208.47 L556.0 1209.01 L560.0 1209.55 L564.0 1210.08 L568.0 1210.62 L572.0 1211.16 L576.0 1211.70 L580.0 1212.23 L584.0 1212.77 L588.0 1213.30 L592.0 1213.84 L596.0 1214.37 L600.0 1214.90 L604.0 1215.42 L608.0 1215.95 L612.0 1216.47 L616.0 1216.99 L620.0 1217.50 L624.0 1218.01 L628.0 1218.52 L632.0 1219.02 L636.0 1219.51 L640.0 1220.01 L644.0 1220.49 L648.0 1220.97 L652.0 1221.45 L656.0 1221.92 L660.0 1222.38 L664.0 1222.84 L668.0 1223.29 L672.0 1223.73 L676.0 1224.16 L680.0 1224.59 L684.0 1225.01 L688.0 1225.42 L692.0 1225.82 L696.0 1226.22 L700.0 1226.60 L704.0 1226.97 L708.0 1227.34 L712.0 1227.70 L716.0 1228.04 L720.0 1228.38 L724.0 1228.71 L728.0 1229.03 L732.0 1229.34 L736.0 1229.64 L740.0 1229.93 L744.0 1230.22 L748.0 1230.49 L752.0 1230.76 L756.0 1231.02 L760.0 1231.27 L764.0 1231.51 L768.0 1231.74 L772.0 1231.96 L776.0 1232.18 L780.0 1232.39 L784.0 1232.59 L788.0 1232.78 L792.0 1232.96 L796.0 1233.14 L800.0 1233.30 L804.0 1233.46 L808.0 1233.61 L812.0 1233.76 L816.0 1233.89 L820.0 1234.02 L824.0 1234.14 L828.0 1234.26 L832.0 1234.36 L836.0 1234.46 L840.0 1234.55 L844.0 1234.64 L848.0 1234.71 L852.0 1234.78 L856.0 1234.85 L860.0 1234.90 L864.0 1234.95 L868.0 1234.99 L872.0 1235.03 L876.0 1235.05 L880.0 1235.08 L884.0 1235.09 L888.0 1235.10 L892.0 1235.10 L895.0 1235.10" stroke="#dd0806" stroke-dasharray="28.6 9.4" stroke-dashoffset="11.98"/>
<path d="M200.0 1403.51 L204.0 1404.00 L208.0 1404.49 L212.0 1404.97 L216.0 1405.46 L220.0 1405.95 L224.0 1406.43 L228.0 1406.92 L232.0 1407.41 L236.0 1407.89 L240.0 1408.38 L244.0 1408.87 L248.0 1409.35 L252.0 1409.84 L256.0 1410.33 L260.0 1410.82 L264.0 1411.31 L268.0 1411.80 L272.0 1412.29 L276.0 1412.78 L280.0 1413.27 L284.0 1413.76 L288.0 1414.25 L292.0 1414.75 L296.0 1415.24 L300.0 1415.74 L304.0 1416.23 L308.0 1416.73 L312.0 1417.22 L316.0 1417.72 L320.0 1418.22 L324.0 1418.72 L328.0 1419.22 L332.0 1419.73 L336.0 1420.23 L340.0 1420.73 L344.0 1421.24 L348.0 1421.75 L352.0 1422.25 L356.0 1422.76 L360.0 1423.27 L364.0 1423.78 L368.0 1424.29 L372.0 1424.81 L376.0 1425.32 L380.0 1425.82 L384.0 1426.33 L388.0 1426.84 L392.0 1427.34 L396.0 1427.85 L400.0 1428.34 L404.0 1428.84 L408.0 1429.34 L412.0 1429.83 L416.0 1430.31 L420.0 1430.79 L424.0 1431.27 L428.0 1431.74 L432.0 1432.21 L436.0 1432.67 L440.0 1433.13 L444.0 1433.58 L448.0 1434.02 L452.0 1434.46 L456.0 1434.89 L460.0 1435.31 L464.0 1435.73 L468.0 1436.14 L472.0 1436.55 L476.0 1436.95 L480.0 1437.34 L484.0 1437.73 L488.0 1438.12 L492.0 1438.49 L496.0 1438.87 L500.0 1439.24 L504.0 1439.60 L508.0 1439.97 L512.0 1440.32 L516.0 1440.68 L520.0 1441.03 L524.0 1441.37 L528.0 1441.71 L532.0 1442.05 L536.0 1442.39 L540.0 1442.72 L544.0 1443.05 L548.0 1443.38 L552.0 1443.71 L556.0 1444.03 L560.0 1444.35 L564.0 1444.67 L568.0 1444.98 L572.0 1445.30 L576.0 1445.61 L580.0 1445.91 L584.0 1446.22 L588.0 1446.52 L592.0 1446.82 L596.0 1447.12 L600.0 1447.41 L604.0 1447.71 L608.0 1448.00 L612.0 1448.28 L616.0 1448.57 L620.0 1448.85 L624.0 1449.13 L628.0 1449.40 L632.0 1449.67 L636.0 1449.94 L640.0 1450.21 L644.0 1450.48 L648.0 1450.74 L652.0 1451.00 L656.0 1451.25 L660.0 1451.51 L664.0 1451.76 L668.0 1452.00 L672.0 1452.25 L676.0 1452.49 L680.0 1452.73 L684.0 1452.97 L688.0 1453.20 L692.0 1453.43 L696.0 1453.65 L700.0 1453.88 L704.0 1454.10 L708.0 1454.32 L712.0 1454.53 L716.0 1454.74 L720.0 1454.95 L724.0 1455.16 L728.0 1455.36 L732.0 1455.56 L736.0 1455.75 L740.0 1455.95 L744.0 1456.13 L748.0 1456.32 L752.0 1456.50 L756.0 1456.68 L760.0 1456.85 L764.0 1457.02 L768.0 1457.19 L772.0 1457.35 L776.0 1457.51 L780.0 1457.66 L784.0 1457.81 L788.0 1457.95 L792.0 1458.09 L796.0 1458.23 L800.0 1458.36 L804.0 1458.49 L808.0 1458.61 L812.0 1458.72 L816.0 1458.83 L820.0 1458.94 L824.0 1459.04 L828.0 1459.14 L832.0 1459.23 L836.0 1459.31 L840.0 1459.39 L844.0 1459.47 L848.0 1459.54 L852.0 1459.60 L856.0 1459.66 L860.0 1459.71 L864.0 1459.75 L868.0 1459.79 L872.0 1459.83 L876.0 1459.85 L880.0 1459.88 L884.0 1459.89 L888.0 1459.90 L892.0 1459.90 L895.0 1459.90" stroke="#00aeef"/>
<path d="M200.0 1531.68 L204.0 1532.80 L208.0 1533.90 L212.0 1534.98 L216.0 1536.03 L220.0 1537.06 L224.0 1538.08 L228.0 1539.07 L232.0 1540.04 L236.0 1541.00 L240.0 1541.93 L244.0 1542.85 L248.0 1543.76 L252.0 1544.65 L256.0 1545.52 L260.0 1546.39 L264.0 1547.24 L268.0 1548.08 L272.0 1548.91 L276.0 1549.73 L280.0 1550.54 L284.0 1551.34 L288.0 1552.14 L292.0 1552.93 L296.0 1553.71 L300.0 1554.49 L304.0 1555.27 L308.0 1556.04 L312.0 1556.81 L316.0 1557.59 L320.0 1558.36 L324.0 1559.13 L328.0 1559.90 L332.0 1560.66 L336.0 1561.43 L340.0 1562.20 L344.0 1562.96 L348.0 1563.73 L352.0 1564.49 L356.0 1565.25 L360.0 1566.01 L364.0 1566.77 L368.0 1567.53 L372.0 1568.29 L376.0 1569.04 L380.0 1569.79 L384.0 1570.55 L388.0 1571.29 L392.0 1572.04 L396.0 1572.79 L400.0 1573.53 L404.0 1574.27 L408.0 1575.01 L412.0 1575.74 L416.0 1576.48 L420.0 1577.21 L424.0 1577.94 L428.0 1578.66 L432.0 1579.39 L436.0 1580.10 L440.0 1580.82 L444.0 1581.53 L448.0 1582.24 L452.0 1582.95 L456.0 1583.65 L460.0 1584.35 L464.0 1585.05 L468.0 1585.74 L472.0 1586.42 L476.0 1587.10 L480.0 1587.78 L484.0 1588.45 L488.0 1589.12 L492.0 1589.78 L496.0 1590.43 L500.0 1591.08 L504.0 1591.73 L508.0 1592.36 L512.0 1593.00 L516.0 1593.62 L520.0 1594.24 L524.0 1594.85 L528.0 1595.46 L532.0 1596.06 L536.0 1596.65 L540.0 1597.24 L544.0 1597.82 L548.0 1598.39 L552.0 1598.95 L556.0 1599.51 L560.0 1600.05 L564.0 1600.60 L568.0 1601.13 L572.0 1601.66 L576.0 1602.17 L580.0 1602.69 L584.0 1603.19 L588.0 1603.69 L592.0 1604.17 L596.0 1604.65 L600.0 1605.13 L604.0 1605.59 L608.0 1606.05 L612.0 1606.50 L616.0 1606.94 L620.0 1607.38 L624.0 1607.80 L628.0 1608.22 L632.0 1608.63 L636.0 1609.04 L640.0 1609.44 L644.0 1609.83 L648.0 1610.22 L652.0 1610.60 L656.0 1610.97 L660.0 1611.34 L664.0 1611.70 L668.0 1612.06 L672.0 1612.41 L676.0 1612.75 L680.0 1613.10 L684.0 1613.43 L688.0 1613.76 L692.0 1614.09 L696.0 1614.41 L700.0 1614.73 L704.0 1615.05 L708.0 1615.36 L712.0 1615.67 L716.0 1615.97 L720.0 1616.28 L724.0 1616.57 L728.0 1616.87 L732.0 1617.16 L736.0 1617.45 L740.0 1617.73 L744.0 1618.01 L748.0 1618.29 L752.0 1618.56 L756.0 1618.83 L760.0 1619.09 L764.0 1619.35 L768.0 1619.60 L772.0 1619.85 L776.0 1620.09 L780.0 1620.33 L784.0 1620.56 L788.0 1620.78 L792.0 1621.00 L796.0 1621.21 L800.0 1621.42 L804.0 1621.62 L808.0 1621.81 L812.0 1621.99 L816.0 1622.17 L820.0 1622.34 L824.0 1622.50 L828.0 1622.66 L832.0 1622.80 L836.0 1622.94 L840.0 1623.07 L844.0 1623.19 L848.0 1623.30 L852.0 1623.41 L856.0 1623.50 L860.0 1623.58 L864.0 1623.66 L868.0 1623.72 L872.0 1623.78 L876.0 1623.82 L880.0 1623.86 L884.0 1623.88 L888.0 1623.90 L892.0 1623.90 L895.0 1623.90" stroke="#00aeef" stroke-dasharray="28.6 9.4" stroke-dashoffset="12.35"/>
</g>
<g stroke="#000" fill="none">
<path stroke-width="3.4" d="M690.3 1435.5V1524.2"/><path stroke-width="3.0" d="M683.00 1435.5H697.60M683.00 1524.2H697.60"/>
</g>
<g stroke="#000" stroke-width="6.1" fill="#fff">
<circle cx="362.7" cy="1419.8" r="11.35"/>
<circle cx="471.5" cy="1423.1" r="11.35"/>
<circle cx="581.2" cy="1421.6" r="11.35"/>
<circle cx="690.3" cy="1479.9" r="11.35"/>
</g>
<g clip-path="url(#cp)" fill="none" stroke-width="9.2">
<path d="M207.5 1679.00 L211.5 1679.33 L215.5 1679.66 L219.5 1679.99 L223.5 1680.31 L227.5 1680.64 L231.5 1680.97 L235.5 1681.29 L239.5 1681.62 L243.5 1681.95 L247.5 1682.27 L251.5 1682.59 L255.5 1682.92 L259.5 1683.24 L263.5 1683.56 L267.5 1683.88 L271.5 1684.20 L275.5 1684.51 L279.5 1684.83 L283.5 1685.15 L287.5 1685.46 L291.5 1685.77 L295.5 1686.08 L299.5 1686.39 L303.5 1686.70 L307.5 1687.01 L311.5 1687.31 L315.5 1687.61 L319.5 1687.91 L323.5 1688.21 L327.5 1688.51 L331.5 1688.80 L335.5 1689.10 L339.5 1689.39 L343.5 1689.68 L347.5 1689.96 L351.5 1690.25 L355.5 1690.53 L359.5 1690.81 L363.5 1691.09 L367.5 1691.36 L371.5 1691.63 L375.5 1691.90 L379.5 1692.17 L383.5 1692.43 L387.5 1692.69 L391.5 1692.95 L395.5 1693.21 L399.5 1693.46 L403.5 1693.71 L407.5 1693.95 L411.5 1694.20 L415.5 1694.43 L419.5 1694.67 L423.5 1694.90 L427.5 1695.13 L431.5 1695.36 L435.5 1695.58 L439.5 1695.80 L443.5 1696.02 L447.5 1696.23 L451.5 1696.44 L455.5 1696.64 L459.5 1696.84 L463.5 1697.04 L467.5 1697.24 L471.5 1697.43 L475.5 1697.61 L479.5 1697.80 L483.5 1697.98 L487.5 1698.15 L491.5 1698.32 L495.5 1698.49 L499.5 1698.66 L503.5 1698.82 L507.5 1698.97 L511.5 1699.13 L515.5 1699.28 L519.5 1699.42 L523.5 1699.56 L527.5 1699.70 L531.5 1699.83 L535.5 1699.96 L539.5 1700.08 L543.5 1700.21 L547.5 1700.32 L551.5 1700.44 L555.5 1700.54 L559.5 1700.65 L563.5 1700.75 L567.5 1700.85 L571.5 1700.95 L575.5 1701.04 L579.5 1701.13 L583.5 1701.22 L587.5 1701.30 L591.5 1701.39 L595.5 1701.47 L599.5 1701.55 L603.5 1701.62 L607.5 1701.70 L611.5 1701.77 L615.5 1701.85 L619.5 1701.92 L623.5 1701.99 L627.5 1702.06 L631.5 1702.12 L635.5 1702.19 L639.5 1702.26 L643.5 1702.33 L647.5 1702.39 L651.5 1702.46 L655.5 1702.52 L659.5 1702.59 L663.5 1702.66 L667.5 1702.73 L671.5 1702.79 L675.5 1702.86 L679.5 1702.93 L683.5 1703.00 L687.5 1703.07 L691.5 1703.14 L695.5 1703.21 L699.5 1703.28 L703.5 1703.35 L707.5 1703.42 L711.5 1703.50 L715.5 1703.57 L719.5 1703.64 L723.5 1703.71 L727.5 1703.79 L731.5 1703.86 L735.5 1703.94 L739.5 1704.01 L743.5 1704.09 L747.5 1704.16 L751.5 1704.24 L755.5 1704.31 L759.5 1704.39 L763.5 1704.47 L767.5 1704.55 L771.5 1704.62 L775.5 1704.70 L779.5 1704.78 L783.5 1704.85 L787.5 1704.93 L791.5 1705.01 L795.5 1705.08 L799.5 1705.15 L803.5 1705.22 L807.5 1705.29 L811.5 1705.36 L815.5 1705.43 L819.5 1705.49 L823.5 1705.56 L827.5 1705.62 L831.5 1705.67 L835.5 1705.73 L839.5 1705.78 L843.5 1705.83 L847.5 1705.87 L851.5 1705.91 L855.5 1705.95 L859.5 1705.99 L863.5 1706.02 L867.5 1706.04 L871.5 1706.06 L875.5 1706.08 L879.5 1706.09 L883.5 1706.10 L887.0 1706.10" stroke="#dd0806"/>
<path d="M207.5 1680.50 L211.5 1681.43 L215.5 1682.36 L219.5 1683.29 L223.5 1684.22 L227.5 1685.15 L231.5 1686.09 L235.5 1687.03 L239.5 1687.96 L243.5 1688.90 L247.5 1689.84 L251.5 1690.78 L255.5 1691.72 L259.5 1692.66 L263.5 1693.60 L267.5 1694.54 L271.5 1695.48 L275.5 1696.42 L279.5 1697.36 L283.5 1698.30 L287.5 1699.23 L291.5 1700.17 L295.5 1701.10 L299.5 1702.04 L303.5 1702.97 L307.5 1703.90 L311.5 1704.82 L315.5 1705.75 L319.5 1706.67 L323.5 1707.59 L327.5 1708.50 L331.5 1709.42 L335.5 1710.33 L339.5 1711.23 L343.5 1712.14 L347.5 1713.04 L351.5 1713.93 L355.5 1714.82 L359.5 1715.71 L363.5 1716.59 L367.5 1717.47 L371.5 1718.35 L375.5 1719.22 L379.5 1720.08 L383.5 1720.94 L387.5 1721.79 L391.5 1722.64 L395.5 1723.48 L399.5 1724.32 L403.5 1725.15 L407.5 1725.97 L411.5 1726.79 L415.5 1727.60 L419.5 1728.40 L423.5 1729.20 L427.5 1729.99 L431.5 1730.77 L435.5 1731.55 L439.5 1732.32 L443.5 1733.08 L447.5 1733.84 L451.5 1734.59 L455.5 1735.34 L459.5 1736.08 L463.5 1736.82 L467.5 1737.55 L471.5 1738.27 L475.5 1738.99 L479.5 1739.71 L483.5 1740.42 L487.5 1741.13 L491.5 1741.83 L495.5 1742.53 L499.5 1743.22 L503.5 1743.91 L507.5 1744.60 L511.5 1745.28 L515.5 1745.96 L519.5 1746.64 L523.5 1747.31 L527.5 1747.98 L531.5 1748.65 L535.5 1749.32 L539.5 1749.98 L543.5 1750.64 L547.5 1751.29 L551.5 1751.94 L555.5 1752.59 L559.5 1753.24 L563.5 1753.88 L567.5 1754.51 L571.5 1755.14 L575.5 1755.77 L579.5 1756.38 L583.5 1757.00 L587.5 1757.60 L591.5 1758.20 L595.5 1758.80 L599.5 1759.38 L603.5 1759.96 L607.5 1760.53 L611.5 1761.09 L615.5 1761.65 L619.5 1762.19 L623.5 1762.73 L627.5 1763.26 L631.5 1763.78 L635.5 1764.30 L639.5 1764.80 L643.5 1765.30 L647.5 1765.79 L651.5 1766.27 L655.5 1766.75 L659.5 1767.21 L663.5 1767.67 L667.5 1768.12 L671.5 1768.56 L675.5 1768.99 L679.5 1769.42 L683.5 1769.84 L687.5 1770.25 L691.5 1770.65 L695.5 1771.04 L699.5 1771.43 L703.5 1771.81 L707.5 1772.18 L711.5 1772.54 L715.5 1772.90 L719.5 1773.24 L723.5 1773.58 L727.5 1773.91 L731.5 1774.24 L735.5 1774.55 L739.5 1774.86 L743.5 1775.16 L747.5 1775.45 L751.5 1775.73 L755.5 1776.01 L759.5 1776.27 L763.5 1776.53 L767.5 1776.78 L771.5 1777.02 L775.5 1777.26 L779.5 1777.49 L783.5 1777.70 L787.5 1777.92 L791.5 1778.12 L795.5 1778.31 L799.5 1778.50 L803.5 1778.68 L807.5 1778.85 L811.5 1779.01 L815.5 1779.16 L819.5 1779.31 L823.5 1779.44 L827.5 1779.57 L831.5 1779.69 L835.5 1779.80 L839.5 1779.91 L843.5 1780.00 L847.5 1780.09 L851.5 1780.17 L855.5 1780.24 L859.5 1780.30 L863.5 1780.35 L867.5 1780.40 L871.5 1780.44 L875.5 1780.47 L879.5 1780.49 L883.5 1780.50 L887.0 1780.50" stroke="#dd0806" stroke-dasharray="28.6 9.4" stroke-dashoffset="23.76"/>
<path d="M207.5 1919.85 L211.5 1920.25 L215.5 1920.64 L219.5 1921.03 L223.5 1921.41 L227.5 1921.79 L231.5 1922.16 L235.5 1922.52 L239.5 1922.88 L243.5 1923.23 L247.5 1923.58 L251.5 1923.92 L255.5 1924.26 L259.5 1924.59 L263.5 1924.92 L267.5 1925.24 L271.5 1925.56 L275.5 1925.87 L279.5 1926.18 L283.5 1926.48 L287.5 1926.78 L291.5 1927.08 L295.5 1927.37 L299.5 1927.66 L303.5 1927.95 L307.5 1928.23 L311.5 1928.51 L315.5 1928.79 L319.5 1929.06 L323.5 1929.33 L327.5 1929.60 L331.5 1929.86 L335.5 1930.12 L339.5 1930.38 L343.5 1930.64 L347.5 1930.90 L351.5 1931.15 L355.5 1931.40 L359.5 1931.65 L363.5 1931.90 L367.5 1932.14 L371.5 1932.39 L375.5 1932.63 L379.5 1932.87 L383.5 1933.11 L387.5 1933.35 L391.5 1933.59 L395.5 1933.82 L399.5 1934.06 L403.5 1934.29 L407.5 1934.51 L411.5 1934.73 L415.5 1934.95 L419.5 1935.17 L423.5 1935.38 L427.5 1935.59 L431.5 1935.79 L435.5 1935.98 L439.5 1936.18 L443.5 1936.36 L447.5 1936.54 L451.5 1936.72 L455.5 1936.89 L459.5 1937.06 L463.5 1937.22 L467.5 1937.38 L471.5 1937.53 L475.5 1937.68 L479.5 1937.82 L483.5 1937.97 L487.5 1938.11 L491.5 1938.25 L495.5 1938.38 L499.5 1938.51 L503.5 1938.64 L507.5 1938.77 L511.5 1938.90 L515.5 1939.03 L519.5 1939.15 L523.5 1939.28 L527.5 1939.40 L531.5 1939.52 L535.5 1939.64 L539.5 1939.77 L543.5 1939.89 L547.5 1940.02 L551.5 1940.14 L555.5 1940.27 L559.5 1940.39 L563.5 1940.52 L567.5 1940.65 L571.5 1940.77 L575.5 1940.90 L579.5 1941.03 L583.5 1941.15 L587.5 1941.28 L591.5 1941.41 L595.5 1941.53 L599.5 1941.66 L603.5 1941.78 L607.5 1941.91 L611.5 1942.03 L615.5 1942.15 L619.5 1942.28 L623.5 1942.40 L627.5 1942.51 L631.5 1942.63 L635.5 1942.75 L639.5 1942.86 L643.5 1942.97 L647.5 1943.08 L651.5 1943.19 L655.5 1943.30 L659.5 1943.40 L663.5 1943.51 L667.5 1943.61 L671.5 1943.70 L675.5 1943.80 L679.5 1943.89 L683.5 1943.98 L687.5 1944.06 L691.5 1944.15 L695.5 1944.23 L699.5 1944.31 L703.5 1944.38 L707.5 1944.46 L711.5 1944.53 L715.5 1944.60 L719.5 1944.67 L723.5 1944.74 L727.5 1944.80 L731.5 1944.87 L735.5 1944.93 L739.5 1944.99 L743.5 1945.05 L747.5 1945.11 L751.5 1945.17 L755.5 1945.23 L759.5 1945.29 L763.5 1945.35 L767.5 1945.41 L771.5 1945.47 L775.5 1945.52 L779.5 1945.58 L783.5 1945.64 L787.5 1945.69 L791.5 1945.75 L795.5 1945.80 L799.5 1945.85 L803.5 1945.90 L807.5 1945.95 L811.5 1946.00 L815.5 1946.05 L819.5 1946.09 L823.5 1946.13 L827.5 1946.17 L831.5 1946.21 L835.5 1946.25 L839.5 1946.29 L843.5 1946.32 L847.5 1946.35 L851.5 1946.38 L855.5 1946.40 L859.5 1946.42 L863.5 1946.44 L867.5 1946.46 L871.5 1946.48 L875.5 1946.49 L879.5 1946.49 L883.5 1946.50 L887.0 1946.50" stroke="#00aeef"/>
<path d="M214.6 2122.55 L218.6 2123.30 L222.6 2124.05 L226.6 2124.80 L230.6 2125.55 L234.6 2126.29 L238.6 2127.02 L242.6 2127.75 L246.6 2128.48 L250.6 2129.20 L254.6 2129.92 L258.6 2130.64 L262.6 2131.35 L266.6 2132.05 L270.6 2132.75 L274.6 2133.45 L278.6 2134.14 L282.6 2134.83 L286.6 2135.51 L290.6 2136.19 L294.6 2136.86 L298.6 2137.53 L302.6 2138.20 L306.6 2138.86 L310.6 2139.51 L314.6 2140.16 L318.6 2140.80 L322.6 2141.44 L326.6 2142.08 L330.6 2142.70 L334.6 2143.33 L338.6 2143.95 L342.6 2144.56 L346.6 2145.17 L350.6 2145.77 L354.6 2146.37 L358.6 2146.96 L362.6 2147.54 L366.6 2148.12 L370.6 2148.70 L374.6 2149.26 L378.6 2149.83 L382.6 2150.38 L386.6 2150.93 L390.6 2151.48 L394.6 2152.02 L398.6 2152.55 L402.6 2153.08 L406.6 2153.60 L410.6 2154.11 L414.6 2154.62 L418.6 2155.12 L422.6 2155.62 L426.6 2156.10 L430.6 2156.59 L434.6 2157.06 L438.6 2157.53 L442.6 2157.99 L446.6 2158.45 L450.6 2158.90 L454.6 2159.34 L458.6 2159.78 L462.6 2160.21 L466.6 2160.63 L470.6 2161.05 L474.6 2161.45 L478.6 2161.85 L482.6 2162.25 L486.6 2162.64 L490.6 2163.02 L494.6 2163.39 L498.6 2163.75 L502.6 2164.11 L506.6 2164.46 L510.6 2164.80 L514.6 2165.14 L518.6 2165.47 L522.6 2165.79 L526.6 2166.10 L530.6 2166.40 L534.6 2166.70 L538.6 2166.99 L542.6 2167.27 L546.6 2167.54 L550.6 2167.81 L554.6 2168.07 L558.6 2168.32 L562.6 2168.56 L566.6 2168.79 L570.6 2169.02 L574.6 2169.23 L578.6 2169.44 L582.6 2169.64 L586.6 2169.83 L590.6 2170.01 L594.6 2170.19 L598.6 2170.35 L602.6 2170.51 L606.6 2170.66 L610.6 2170.80 L614.6 2170.93 L618.6 2171.05 L622.6 2171.17 L626.6 2171.27 L630.6 2171.37 L634.6 2171.45 L638.6 2171.53 L642.6 2171.60 L646.6 2171.66 L650.6 2171.71 L654.6 2171.75 L658.6 2171.78 L662.6 2171.80 L666.6 2171.81 L670.6 2171.82 L674.6 2171.81 L678.6 2171.79 L682.6 2171.77 L686.6 2171.73 L690.6 2171.69 L694.6 2171.63 L698.6 2171.57 L700.0 2171.54" stroke="#00aeef" stroke-dasharray="28.6 9.4" stroke-dashoffset="36.81"/>
</g>
<g stroke="#000" fill="none">
<path stroke-width="3.4" d="M358.8 1909.5V1962.8"/><path stroke-width="3.0" d="M351.50 1909.5H366.10M351.50 1962.8H366.10"/>
<path stroke-width="3.4" d="M459.3 1913.0V1963.3"/><path stroke-width="3.0" d="M452.00 1913.0H466.60M452.00 1963.3H466.60"/>
<path stroke-width="3.4" d="M560.1 1915.0V1956.8"/><path stroke-width="3.0" d="M552.80 1915.0H567.40M552.80 1956.8H567.40"/>
<path stroke-width="3.4" d="M660.2 1921.2V1975"/><path stroke-width="3.0" d="M652.90 1921.2H667.50M652.90 1975H667.50"/>
<path stroke-width="3.4" d="M761 1925.9V1964.4"/><path stroke-width="3.0" d="M753.70 1925.9H768.30M753.70 1964.4H768.30"/>
</g>
<g stroke="#000" stroke-width="6.1" fill="#fff">
<circle cx="358.8" cy="1936.2" r="11.35"/>
<circle cx="459.3" cy="1937.5" r="11.35"/>
<circle cx="560.1" cy="1936.2" r="11.35"/>
<circle cx="660.2" cy="1947.6" r="11.35"/>
<circle cx="761" cy="1945" r="11.35"/>
</g>
<g stroke="#000" stroke-width="7.7" fill="none">
<rect x="200.1" y="11.05" width="695.0" height="2159.75"/>
<path stroke-width="7.0" d="M200.1 553.5H895.1"/>
<path stroke-width="7.0" d="M200.1 1092.4H895.1"/>
<path stroke-width="7.7" d="M200.1 1631.8H895.1"/>
</g>
<defs>
<clipPath id="c1"><path clip-rule="evenodd" d="M-400 -150H400V60H-400ZM-40.73 -3.87H-32.40V3H-40.73ZM-28.65 -3.87H-20.62V3H-28.65Z"/></clipPath>
<clipPath id="c2"><path clip-rule="evenodd" d="M-400 -150H400V60H-400ZM35.63 -3.87H43.97V3H35.63ZM47.72 -3.87H55.75V3H47.72Z"/></clipPath>
<clipPath id="c3"><path clip-rule="evenodd" d="M-400 -150H400V60H-400ZM198.23 -7.49H210.62V3H198.23ZM219.72 -7.49H231.29V3H219.72Z"/></clipPath>
</defs>
<text transform="translate(165.30 568.40) scale(1 1.04)" font-size="39.7" text-anchor="end">0</text>
<text transform="translate(165.30 450.90) scale(1 1.04)" font-size="39.7" text-anchor="end">5</text>
<text clip-path="url(#c1)" transform="translate(165.30 333.40) scale(1 1.04)" font-size="39.7" text-anchor="end" dx="0 -1.9">10</text>
<text clip-path="url(#c1)" transform="translate(165.30 215.90) scale(1 1.04)" font-size="39.7" text-anchor="end" dx="0 -1.9">15</text>
<text transform="translate(165.30 98.40) scale(1 1.04)" font-size="39.7" text-anchor="end">20</text>
<text transform="translate(165.30 1105.90) scale(1 1.04)" font-size="39.7" text-anchor="end">0</text>
<text transform="translate(165.30 989.40) scale(1 1.04)" font-size="39.7" text-anchor="end">5</text>
<text clip-path="url(#c1)" transform="translate(165.30 872.90) scale(1 1.04)" font-size="39.7" text-anchor="end" dx="0 -1.9">10</text>
<text clip-path="url(#c1)" transform="translate(165.30 756.40) scale(1 1.04)" font-size="39.7" text-anchor="end" dx="0 -1.9">15</text>
<text transform="translate(165.30 639.90) scale(1 1.04)" font-size="39.7" text-anchor="end">20</text>
<text transform="translate(165.30 1645.70) scale(1 1.04)" font-size="39.7" text-anchor="end">0</text>
<text transform="translate(165.30 1528.25) scale(1 1.04)" font-size="39.7" text-anchor="end">5</text>
<text clip-path="url(#c1)" transform="translate(165.30 1410.80) scale(1 1.04)" font-size="39.7" text-anchor="end" dx="0 -1.9">10</text>
<text clip-path="url(#c1)" transform="translate(165.30 1293.35) scale(1 1.04)" font-size="39.7" text-anchor="end" dx="0 -1.9">15</text>
<text transform="translate(165.30 1175.90) scale(1 1.04)" font-size="39.7" text-anchor="end">20</text>
<text transform="translate(175.20 2184.70) scale(1 1.04)" font-size="39.7" text-anchor="end">0</text>
<text transform="translate(175.20 2067.00) scale(1 1.04)" font-size="39.7" text-anchor="end">5</text>
<text clip-path="url(#c1)" transform="translate(175.20 1949.30) scale(1 1.04)" font-size="39.7" text-anchor="end" dx="0 -1.9">10</text>
<text clip-path="url(#c1)" transform="translate(175.20 1831.60) scale(1 1.04)" font-size="39.7" text-anchor="end" dx="0 -1.9">15</text>
<text transform="translate(175.20 1713.90) scale(1 1.04)" font-size="39.7" text-anchor="end">20</text>
<text transform="translate(207.60 2230.80) scale(1 1.04)" font-size="39.7" text-anchor="middle">0.0</text>
<text clip-path="url(#c2)" transform="translate(315.91 2230.80) scale(1 1.04)" font-size="39.7" dx="0 0 1.0">0.1</text>
<text transform="translate(479.40 2230.80) scale(1 1.04)" font-size="39.7" text-anchor="middle">0.2</text>
<text transform="translate(615.30 2230.80) scale(1 1.04)" font-size="39.7" text-anchor="middle">0.3</text>
<text transform="translate(751.20 2230.80) scale(1 1.04)" font-size="39.7" text-anchor="middle">0.4</text>
<text transform="translate(887.10 2230.80) scale(1 1.04)" font-size="39.7" text-anchor="middle">0.5</text>
<text class="b" clip-path="url(#c3)" transform="translate(224.00 342.80) scale(1 1.045)" font-size="64.6" dx="0 0 0 0 0 0 1.8">Stage 1</text>
<text class="b" transform="translate(224.00 946.30) scale(1 1.045)" font-size="64.6">Stage 2</text>
<text class="b" transform="translate(224.00 1326.30) scale(1 1.045)" font-size="64.6">Stage 3</text>
<text class="b" transform="translate(224.00 1866.70) scale(1 1.045)" font-size="64.6">Stage 4</text>
<text class="b" transform="translate(131.60 2314.40) scale(1 1.045)" font-size="58.1">Relative distance from surface</text>
<text class="b" transform="translate(52.40 1401.20) rotate(-90) scale(1 1.045)" font-size="58.1">O<tspan font-size="40" dy="20.6">2</tspan><tspan dy="-20.6"> concentration (kPa)</tspan></text>
</svg></body></html>
